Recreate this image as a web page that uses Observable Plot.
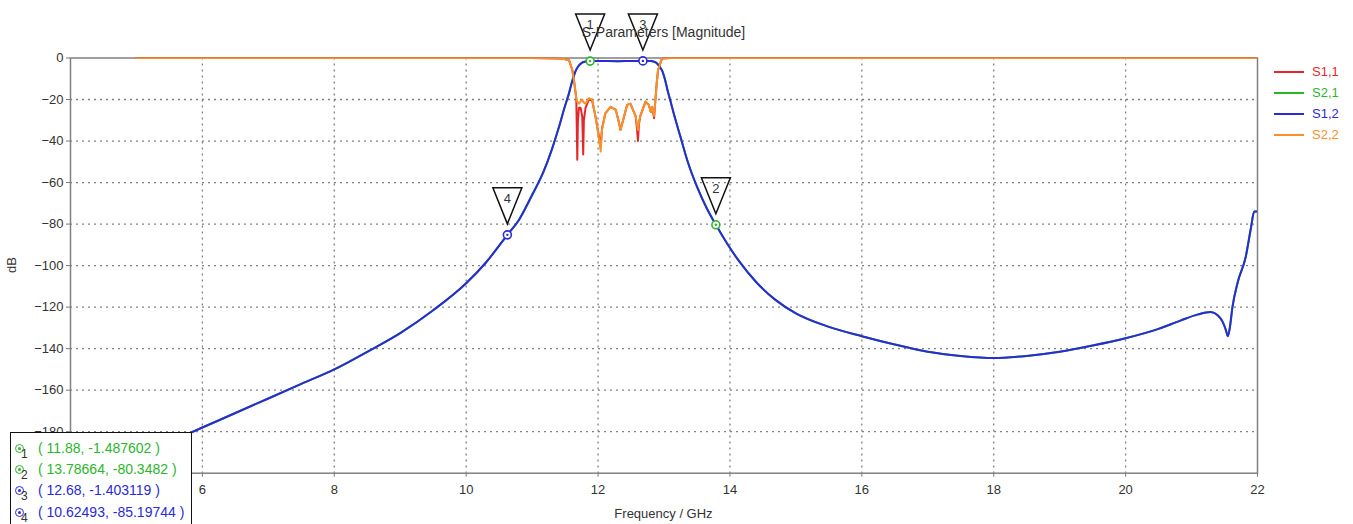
<!DOCTYPE html>
<html>
<head>
<meta charset="utf-8">
<script src="https://cdn.jsdelivr.net/npm/d3@7"></script>
<script src="https://cdn.jsdelivr.net/npm/@observablehq/plot@0.6"></script>
<style>
  body { margin: 0; background: #fff; font-family: "Liberation Sans", Arial, sans-serif; }
  #wrap { position: relative; width: 1353px; height: 524px; overflow: hidden; background: #fff; }
  #wrap svg { position: absolute; left: 0; top: 0; }
  .title { position: absolute; left: 0; width: 1327px; top: 24px; text-align: center; font-size: 14px; color: #333; line-height: 16px; }
  .xlabel { position: absolute; left: 0; width: 1327px; top: 506px; text-align: center; font-size: 13px; color: #333; line-height: 16px; }
  .ylabel { position: absolute; left: 4px; top: 257px; width: 16px; height: 16px; font-size: 13px; color: #333; line-height: 16px; transform: rotate(-90deg); text-align: center; }
  .legend { position: absolute; left: 1274px; top: 63px; font-size: 13px; }
  .legend .item { position: relative; height: 21px; }
  .legend .sw { position: absolute; left: 0; top: 8px; width: 30px; height: 2px; }
  .legend .lb { position: absolute; left: 38px; top: 0; line-height: 17px; }
  .mtable { position: absolute; left: 10px; top: 432px; width: 180px; height: 100px; border: 1.5px solid #111; background: #fff; }
  .mrow { position: absolute; left: 0; height: 20px; width: 180px; }
  .mrow .ic { position: absolute; left: 4px; top: 5px; width: 7px; height: 7px; border-radius: 50%; border: 1.6px solid; background: #fff; }
  .mrow .ic i { position: absolute; left: 2px; top: 2px; width: 3px; height: 3px; border-radius: 50%; }
  .mrow .num { position: absolute; left: 10px; top: 9px; font-size: 12px; color: #333; line-height: 12px; }
  .mrow .tx { position: absolute; left: 27px; top: 0; font-size: 14px; line-height: 18px; white-space: nowrap; }
</style>
</head>
<body>
<div id="wrap"></div>
<script>
// ---- data ----
const seriesNames = ["S1,1", "S2,1", "S1,2", "S2,2"];
const seriesColors = ["#e8262a", "#2cb52c", "#2a2ad8", "#f5922a"];

const xTicks = [6, 8, 10, 12, 14, 16, 18, 20, 22];
const yTicks = [0, -20, -40, -60, -80, -100, -120, -140, -160, -180];

// transmission S1,2 (blue trace)
const s12Freq = [5, 5.5, 6, 6.5, 7, 7.5, 8, 8.5, 9, 9.5, 10, 10.3, 10.62493, 10.8, 11.0, 11.17, 11.3, 11.4, 11.5, 11.55, 11.6, 11.65, 11.7, 11.75, 11.8, 11.88, 12.0, 12.15, 12.3, 12.5, 12.68, 12.8, 12.88, 12.93, 12.97, 13.02, 13.05, 13.1, 13.15, 13.25, 13.36, 13.5, 13.65, 13.78664, 13.95, 14.13, 14.4, 14.69, 15, 15.5, 16, 16.5, 17, 17.5, 18, 18.5, 19, 19.5, 20, 20.5, 20.83, 21.1, 21.29, 21.4, 21.47, 21.52, 21.55, 21.58, 21.62, 21.7, 21.82, 21.9, 21.95, 22];
const s12dB = [-192, -185, -178, -171, -164, -157, -150, -141.5, -132.5, -121.5, -108.5, -98.5, -85.2, -78, -66, -55, -44, -34, -23, -18, -12, -7, -4, -2.4, -1.8, -1.49, -1.4, -1.5, -1.55, -1.45, -1.40, -1.5, -2.2, -4, -6, -11, -15, -21, -27, -38, -50, -62, -72.5, -80.35, -89, -97.5, -108, -116.5, -123, -129.5, -134, -138, -141.5, -143.5, -144.5, -143.5, -141.5, -138.5, -135, -130.5, -126.5, -123.5, -122.4, -124, -127, -131, -134, -130, -120, -108, -96, -82, -74, -74];

// transmission S2,1 (green trace, drawn under and coinciding with S1,2)
const s21Freq = [5, 5.5, 6, 6.5, 7, 7.5, 8, 8.5, 9, 9.5, 10, 10.3, 10.62493, 10.8, 11.0, 11.17, 11.3, 11.4, 11.5, 11.55, 11.6, 11.65, 11.7, 11.75, 11.8, 11.88, 12.0, 12.15, 12.3, 12.5, 12.68, 12.8, 12.88, 12.93, 12.97, 13.02, 13.05, 13.1, 13.15, 13.25, 13.36, 13.5, 13.65, 13.78664, 13.95, 14.13, 14.4, 14.69, 15, 15.5, 16, 16.5, 17, 17.5, 18, 18.5, 19, 19.5, 20, 20.5, 20.83, 21.1, 21.29, 21.4, 21.47, 21.52, 21.55, 21.58, 21.62, 21.7, 21.82, 21.9, 21.95, 22];
const s21dB = [-192, -185, -178, -171, -164, -157, -150, -141.5, -132.5, -121.5, -108.5, -98.5, -85.2, -78, -66, -55, -44, -34, -23, -18, -12, -7, -4, -2.4, -1.8, -1.49, -1.4, -1.5, -1.55, -1.45, -1.40, -1.5, -2.2, -4, -6, -11, -15, -21, -27, -38, -50, -62, -72.5, -80.35, -89, -97.5, -108, -116.5, -123, -129.5, -134, -138, -141.5, -143.5, -144.5, -143.5, -141.5, -138.5, -135, -130.5, -126.5, -123.5, -122.4, -124, -127, -131, -134, -130, -120, -108, -96, -82, -74, -74];

// reflection (S1,1 red, S2,2 orange)
const reflFreq = [5, 11.0, 11.4, 11.48, 11.56, 11.61, 11.64, 11.67, 11.685, 11.695, 11.71, 11.735, 11.76, 11.775, 11.785, 11.81, 11.86, 11.91, 11.96, 12.01, 12.04, 12.06, 12.11, 12.19, 12.27, 12.32, 12.34, 12.38, 12.44, 12.49, 12.57, 12.59, 12.605, 12.62, 12.64, 12.72, 12.77, 12.80, 12.82, 12.85, 12.87, 12.89, 12.91, 12.97, 13.1, 22];
const s11dB = [0, 0, -0.3, -0.5, -1, -5.8, -12, -19.4, -49, -30, -24, -24, -28, -46.5, -30, -24, -20, -20.5, -28, -37, -42, -34, -26.7, -23.5, -25, -31.5, -34.7, -30, -22.6, -22, -28, -34, -40, -32, -28, -21, -22.6, -26, -23.5, -29, -20, -12, -5.8, -0.2, 0, 0];
const s22dB = [0, 0, -0.3, -0.5, -1, -5.8, -12, -19.4, -21, -21.5, -22, -21, -20, -21, -21.5, -22, -19.4, -20, -28, -38, -45, -34.7, -26.7, -23.5, -25, -31.5, -34.7, -30, -22.6, -22, -28, -32, -34.7, -31, -28, -21, -22.6, -26, -23.5, -28, -20, -12, -5.8, -0.2, 0, 0];

// markers
const markerIds = [1, 2, 3, 4];
const markerFreq = [11.88, 13.78664, 12.68, 10.62493];
const markerDB = [-1.487602, -80.3482, -1.403119, -85.19744];
const markerLabels = ["( 11.88, -1.487602 )", "( 13.78664, -80.3482 )", "( 12.68, -1.403119 )", "( 10.62493, -85.19744 )"];
const markerSeries = ["S2,1", "S2,1", "S1,2", "S1,2"];

// ---- build tables ----
const rows = (f, v) => f.map((x, i) => ({f: x, db: v[i]}));
const colorOf = name => seriesColors[seriesNames.indexOf(name)];
const markers = markerIds.map((id, i) => ({id, f: markerFreq[i], db: markerDB[i], color: colorOf(markerSeries[i])}));

const flag = {
  draw(ctx) {
    ctx.moveTo(-14.5, -47);
    ctx.lineTo(14.5, -47);
    ctx.lineTo(0, -11);
    ctx.closePath();
  }
};

const grid = {stroke: "#808080", strokeOpacity: 1, strokeWidth: 1.3, strokeDasharray: "2,4"};

const chart = Plot.plot({
  width: 1353,
  height: 524,
  marginLeft: 70,
  marginRight: 96,
  marginTop: 57.5,
  marginBottom: 51.3,
  x: {domain: [4, 22]},
  y: {domain: [-200, 0]},
  color: {type: "identity"},
  style: {fontFamily: "Liberation Sans, Arial, sans-serif", fontSize: "13px", color: "#333", background: "transparent"},
  marks: [
    Plot.gridX(xTicks.filter(t => t < 22), grid),
    Plot.gridY(yTicks.filter(t => t < 0), grid),
    Plot.axisX(xTicks, {tickSize: 4, tickPadding: 8, label: null, stroke: "#777"}),
    Plot.axisY(yTicks, {tickSize: 4, tickPadding: 3, label: null, stroke: "#777"}),
    Plot.frame({stroke: "#808080", strokeWidth: 1.5}),
    Plot.line(rows(reflFreq, s11dB), {x: "f", y: "db", stroke: colorOf("S1,1"), strokeWidth: 2, clip: true}),
    Plot.line(rows(s21Freq, s21dB), {x: "f", y: "db", stroke: colorOf("S2,1"), strokeWidth: 2, curve: "monotone-x", clip: true}),
    Plot.line(rows(s12Freq, s12dB), {x: "f", y: "db", stroke: colorOf("S1,2"), strokeWidth: 2, curve: "monotone-x", clip: true}),
    Plot.line(rows(reflFreq, s22dB), {x: "f", y: "db", stroke: colorOf("S2,2"), strokeWidth: 2, clip: true}),
    Plot.dot(markers, {x: "f", y: "db", symbol: flag, r: 5, stroke: "#111", fill: "none", strokeWidth: 1.5}),
    Plot.text(markers, {x: "f", y: "db", text: "id", dy: -36, fontSize: 13, fill: "#333"}),
    Plot.dot(markers, {x: "f", y: "db", r: 4, stroke: "color", fill: "white", strokeWidth: 1.6}),
    Plot.dot(markers, {x: "f", y: "db", r: 1.2, fill: "color"})
  ]
});

const wrap = document.getElementById("wrap");
wrap.appendChild(chart);

const add = (cls, html) => { const d = document.createElement("div"); d.className = cls; d.innerHTML = html; wrap.appendChild(d); return d; };
add("title", "S-Parameters [Magnitude]");
add("xlabel", "Frequency / GHz");
add("ylabel", "dB");

const lg = add("legend", "");
seriesNames.forEach((n, i) => {
  const it = document.createElement("div");
  it.className = "item";
  it.innerHTML = `<div class="sw" style="background:${seriesColors[i]}"></div><div class="lb" style="color:${seriesColors[i]}">${n}</div>`;
  lg.appendChild(it);
});

const tb = add("mtable", "");
markers.forEach((m, i) => {
  const r = document.createElement("div");
  r.className = "mrow";
  r.style.top = (6 + i * 21.2) + "px";
  r.innerHTML = `<div class="ic" style="border-color:${m.color}"><i style="background:${m.color}"></i></div><div class="num">${m.id}</div><div class="tx" style="color:${m.color}">${markerLabels[i]}</div>`;
  tb.appendChild(r);
});
</script>
</body>
</html>
